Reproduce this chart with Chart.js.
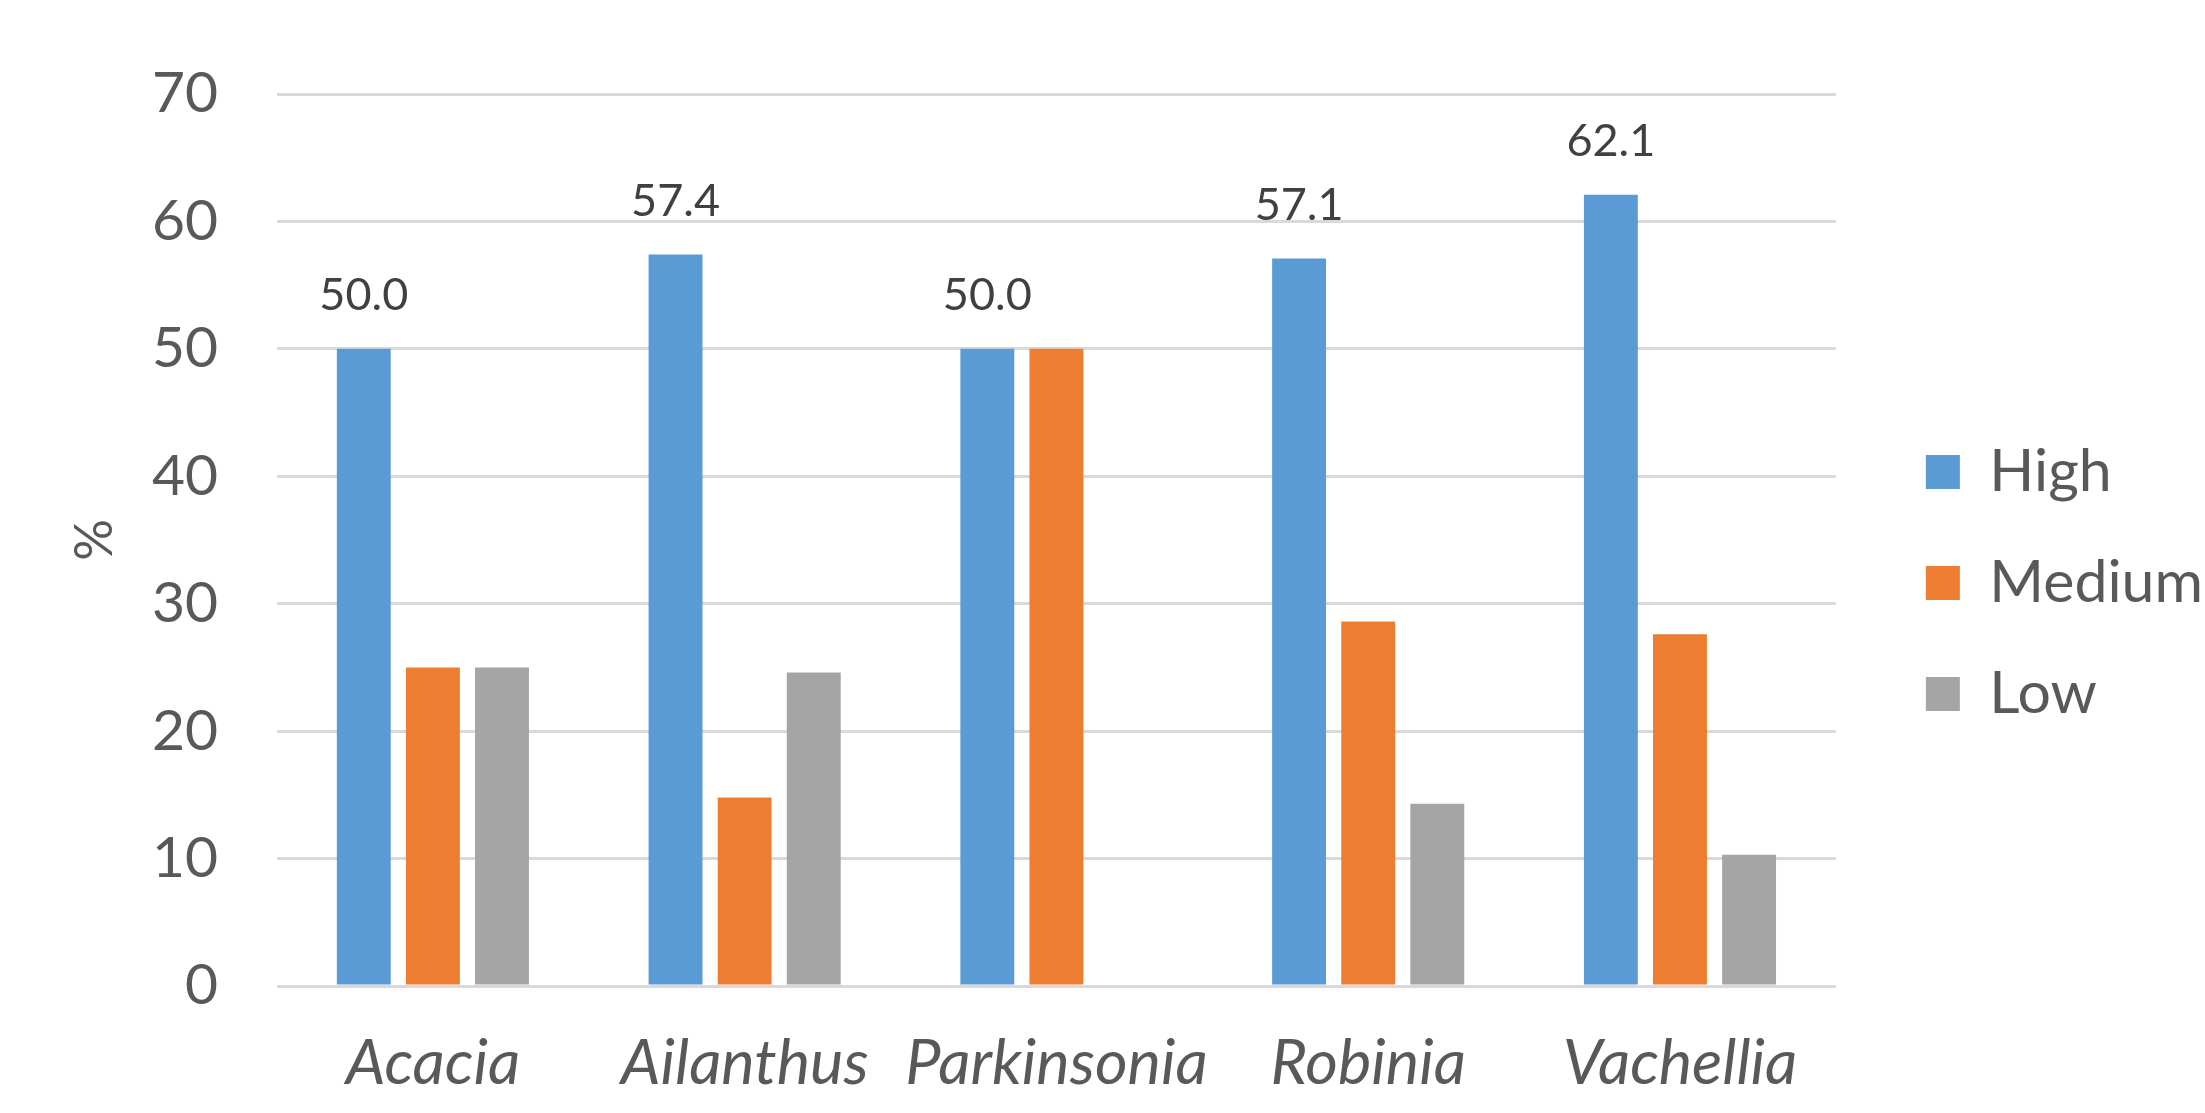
<!DOCTYPE html>
<html>
<head>
<meta charset="utf-8">
<script src="https://cdn.jsdelivr.net/npm/chart.js@4.4.1/dist/chart.umd.min.js"></script>
<style>
  html, body { margin: 0; padding: 0; background: #ffffff; }
  #wrap { width: 2205px; height: 1113px; }
</style>
</head>
<body>
<div id="wrap"><canvas id="chart" width="2205" height="1113"></canvas></div>
<script>
// Genera and the share (%) of records in each class
const genera = ['Acacia', 'Ailanthus', 'Parkinsonia', 'Robinia', 'Vachellia'];
const highValues = [50.0, 57.4, 50.0, 57.1, 62.1];
const mediumValues = [25.0, 14.8, 50.0, 28.6, 27.6];
const lowValues = [25.0, 24.6, 0, 14.3, 10.3];
const yTicks = [0, 10, 20, 30, 40, 50, 60, 70];

const textColor = '#595959';
const fontFamily = 'Lato, "Open Sans", "Noto Sans", sans-serif';

// Writes the value of each "High" bar just above it
const highLabels = {
  id: 'highLabels',
  afterDatasetsDraw(chart) {
    const meta = chart.getDatasetMeta(0);
    const ctx = chart.ctx;
    ctx.save();
    ctx.font = '45px ' + fontFamily;
    ctx.fillStyle = '#404040';
    ctx.textAlign = 'center';
    ctx.textBaseline = 'middle';
    meta.data.forEach((bar, i) => {
      ctx.fillText(highValues[i].toFixed(1), bar.x, bar.y - 53);
    });
    ctx.restore();
  }
};

// Empty spacer axes: one above the plot, one between the plot and the legend
const spacer = (position, size) => ({
  type: position === 'top' ? 'category' : 'linear',
  position,
  grid: { display: false, drawTicks: false },
  border: { display: false },
  ticks: { display: false },
  afterFit(s) {
    if (position === 'top') s.height = size; else s.width = size;
  }
});

new Chart(document.getElementById('chart'), {
  type: 'bar',
  data: {
    labels: genera,
    datasets: [
      { label: 'High', data: highValues, backgroundColor: '#5B9BD5' },
      { label: 'Medium', data: mediumValues, backgroundColor: '#ED7D31' },
      { label: 'Low', data: lowValues, backgroundColor: '#A5A5A5' }
    ]
  },
  options: {
    responsive: false,
    animation: false,
    devicePixelRatio: 1,
    categoryPercentage: 0.665,
    barPercentage: 0.78,
    layout: { padding: { top: 53, bottom: 0, left: 0, right: -8 } },
    plugins: {
      tooltip: { enabled: false },
      legend: {
        position: 'right',
        labels: {
          boxWidth: 34,
          boxHeight: 34,
          padding: 52,
          color: textColor,
          font: { family: fontFamily, size: 59 }
        }
      }
    },
    scales: {
      x: {
        grid: { display: false, drawTicks: false },
        border: { display: false },
        ticks: {
          color: textColor,
          padding: 40,
          font: { family: fontFamily, size: 63, style: 'italic' }
        },
        afterFit(s) { s.height = 127; }
      },
      y: {
        min: 0,
        max: 70,
        afterBuildTicks(s) { s.ticks = yTicks.map(v => ({ value: v })); },
        grid: { color: '#D9D9D9', lineWidth: 3, drawTicks: false },
        border: { display: false },
        ticks: {
          color: textColor,
          padding: 59,
          font: { family: fontFamily, size: 57 }
        },
        title: {
          display: true,
          text: '%',
          color: textColor,
          padding: { top: 64, bottom: 0 },
          font: { family: fontFamily, size: 52 }
        },
        afterFit(s) { s.width = 277; }
      },
      xTop: spacer('top', 41),
      gap: spacer('right', 38)
    }
  },
  plugins: [highLabels]
});
</script>
</body>
</html>
